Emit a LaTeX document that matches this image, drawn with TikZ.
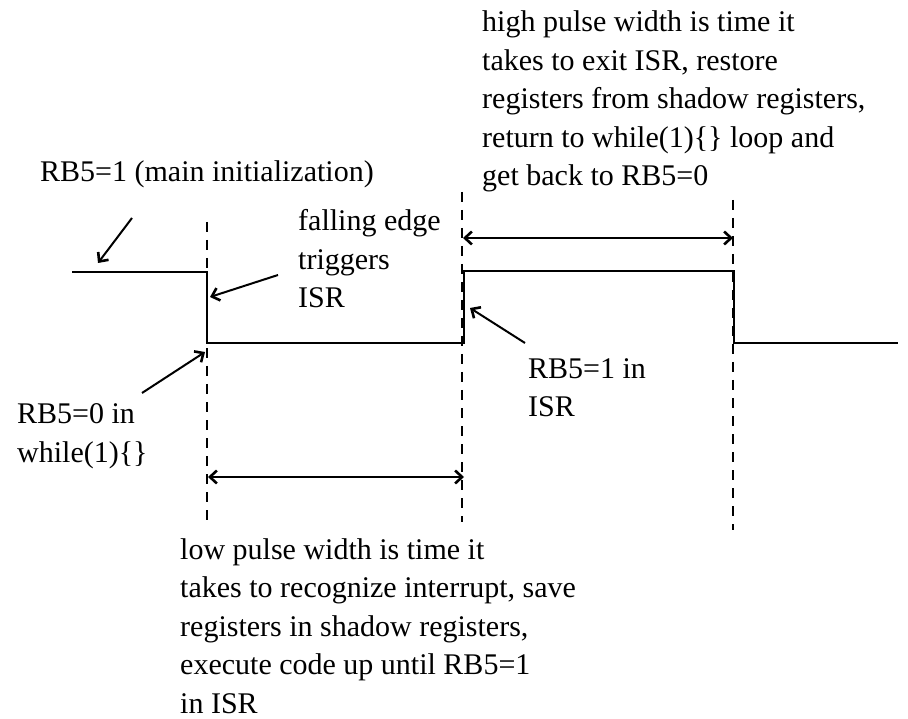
\documentclass[tikz,border=0pt]{standalone}
\usepackage{fontspec}
\setmainfont{Liberation Serif}
\usetikzlibrary{arrows.meta}
\begin{document}
\begin{tikzpicture}[x=1pt,y=-1pt,
  label/.style={anchor=base west,inner sep=0pt,align=left,
    font=\fontsize{30}{38.5}\selectfont},
  signal/.style={line width=2.4pt,line join=miter},
  guide/.style={line width=2pt,dash pattern=on 10pt off 8pt},
  pointer/.style={line width=2pt,-{Straight Barb[length=7pt,width=13pt,line width=2.6pt]}},
  span/.style={line width=2pt,{Straight Barb[length=7pt,width=13pt,line width=2.6pt]}-{Straight Barb[length=7pt,width=13pt,line width=2.6pt]}}]
\useasboundingbox (0,0) rectangle (908,719);

% waveform of RB5
\coordinate (s0) at (72,272);
\coordinate (s1) at (207,272);
\coordinate (s2) at (207,343);
\coordinate (s3) at (464,343);
\coordinate (s4) at (464,271);
\coordinate (s5) at (734,271);
\coordinate (s6) at (734,343);
\coordinate (s7) at (898,343);
\draw[signal] (s0) -- (s1) -- (s2) -- (s3) -- (s4) -- (s5) -- (s6) -- (s7);

% vertical dashed markers
\coordinate (g1t) at (207,222); \coordinate (g1b) at (207,522);
\coordinate (g2t) at (462,192); \coordinate (g2b) at (462,522);
\coordinate (g3t) at (733,200); \coordinate (g3b) at (733,530);
\draw[guide] (g1t) -- (g1b);
\draw[guide] (g2t) -- (g2b);
\draw[guide] (g3t) -- (g3b);

% pulse width spans
\coordinate (hl) at (463,238); \coordinate (hr) at (733,238);
\coordinate (ll) at (208,477); \coordinate (lr) at (464,477);
\draw[span] (hl) -- (hr);
\draw[span] (ll) -- (lr);

% text labels (anchored at the baseline of their last line)
\node[label] (initT) at (40,182) {RB5=1 (main initialization)};
\node[label] (fallT) at (298,308) {falling edge\\triggers\\ISR};
\node[label] (rb0T) at (17,462) {RB5=0 in\\while(1)\{\}};
\node[label] (rb1T) at (528,417) {RB5=1 in\\ISR};
\node[label] (highT) at (482,186) {high pulse width is time it\\takes to exit ISR, restore\\registers from shadow registers,\\return to while(1)\{\} loop and\\get back to RB5=0};
\node[label] (lowT) at (180,713) {low pulse width is time it\\takes to recognize interrupt, save\\registers in shadow registers,\\execute code up until RB5=1\\in ISR};

% pointer arrows
\coordinate (a1s) at (132,218); \coordinate (a1e) at (98,263);
\coordinate (a2s) at (278,275); \coordinate (a2e) at (210,297);
\coordinate (a3s) at (142,393); \coordinate (a3e) at (205,352);
\coordinate (a4s) at (525,343); \coordinate (a4e) at (470,308);
\draw[pointer] (a1s) -- (a1e);
\draw[pointer] (a2s) -- (a2e);
\draw[pointer] (a3s) -- (a3e);
\draw[pointer] (a4s) -- (a4e);
\end{tikzpicture}
\end{document}
